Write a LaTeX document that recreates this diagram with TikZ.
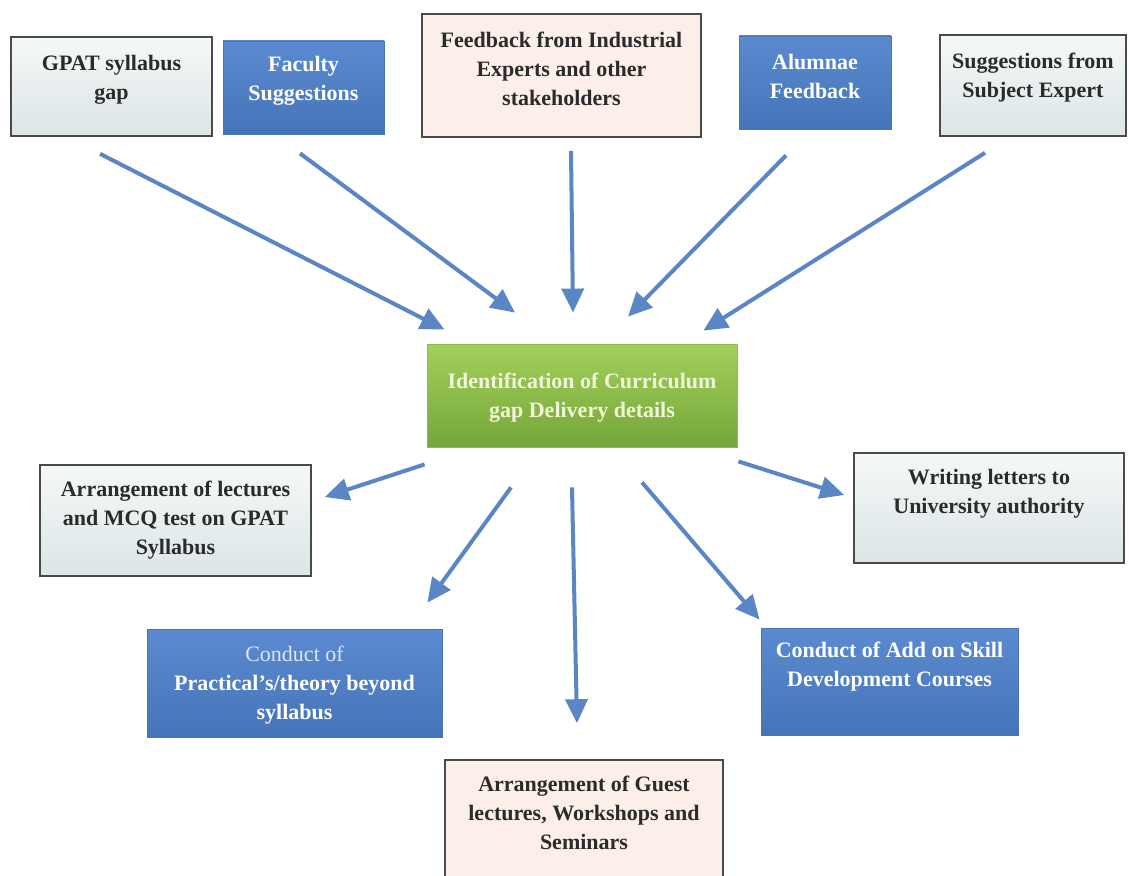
\documentclass[tikz,border=0pt]{standalone}
\usepackage{fontspec}
\setmainfont{Liberation Serif}
\usetikzlibrary{arrows.meta,calc}
\definecolor{arrowblue}{HTML}{5B86C5}
\definecolor{boxedge}{HTML}{4A4A4A}
\definecolor{grayTop}{HTML}{F5F8F8}
\definecolor{grayBot}{HTML}{DCE5E6}
\definecolor{pinkfill}{HTML}{FCEFE9}
\definecolor{blueTop}{HTML}{5B8AD0}
\definecolor{blueBot}{HTML}{4674B8}
\definecolor{blueedge}{HTML}{4A76B8}
\definecolor{greenTop}{HTML}{A3D05A}
\definecolor{greenBot}{HTML}{74A63A}
\definecolor{greenedge}{HTML}{8CBF48}
\definecolor{darktext}{HTML}{2B2B2B}
\definecolor{greentext}{HTML}{F1F6D8}
\definecolor{paletext}{HTML}{DDE6F5}
\begin{document}
\begin{tikzpicture}[x=1pt,y=-1pt,
  box/.style={rectangle, inner sep=0pt, line width=1.6pt},
  graybox/.style={box, draw=boxedge, top color=grayTop, bottom color=grayBot},
  pinkbox/.style={box, draw=boxedge, fill=pinkfill},
  bluebox/.style={box, draw=blueedge, line width=0.8pt, top color=blueTop, bottom color=blueBot},
  greenbox/.style={box, draw=greenedge, line width=0.8pt, top color=greenTop, bottom color=greenBot},
  dtxt/.style={align=center, font=\bfseries\fontsize{22}{29}\selectfont, text=darktext, inner sep=0pt},
  wtxt/.style={dtxt, text=white},
  gtxt/.style={dtxt, text=greentext},
  arr/.style={draw=arrowblue, line width=4pt, -{Triangle[length=24pt,width=22pt]}}
]
\useasboundingbox (0,0) rectangle (1129,875);
\clip (0,0) rectangle (1129,875);
\fill[white] (0,0) rectangle (1129,875);

% top row
\node[graybox, minimum width=201pt, minimum height=99pt] (gpat) at (111.5,86.5) {};
\node[dtxt] (gpatT) at ($(gpat.center)+(0,-7)$) {GPAT syllabus\\gap};

\node[bluebox, minimum width=161pt, minimum height=93pt] (faculty) at (303.5,87.5) {};
\node[wtxt] (facultyT) at ($(faculty.center)+(0,-7)$) {Faculty\\Suggestions};

\node[pinkbox, minimum width=279pt, minimum height=123pt] (feedback) at (561.5,75.5) {};
\node[dtxt] (feedbackT) at ($(feedback.center)+(0,-7)$) {Feedback from Industrial\\Experts and other\\stakeholders};

\node[bluebox, minimum width=152pt, minimum height=93pt] (alumnae) at (815,82.5) {};
\node[wtxt] (alumnaeT) at ($(alumnae.center)+(0,-6)$) {Alumnae\\Feedback};

\node[graybox, minimum width=186pt, minimum height=101pt] (subject) at (1033,85.5) {};
\node[dtxt] (subjectT) at ($(subject.center)+(0,-8)$) {Suggestions from\\Subject Expert};

% centre
\node[greenbox, minimum width=310pt, minimum height=103pt] (center) at (582,395.5) {};
\node[gtxt] (centerT) at ($(center.center)+(0,2)$) {Identification of Curriculum\\gap Delivery details};

% bottom
\node[graybox, minimum width=271pt, minimum height=111pt] (lectures) at (175.5,520.5) {};
\node[dtxt] (lecturesT) at (lectures.center) {Arrangement of lectures\\and MCQ test on GPAT\\Syllabus};

\node[graybox, minimum width=270pt, minimum height=110pt] (writing) at (989,508) {};
\node[dtxt] (writingT) at ($(writing.center)+(0,-14)$) {Writing letters to\\University authority};

\node[bluebox, minimum width=295pt, minimum height=108pt] (practical) at (294.5,683) {};
\node[wtxt] (practicalT) at ($(practical.center)+(0,2)$) {{\mdseries\color{paletext}Conduct of}\\Practical's/theory beyond\\syllabus};

\node[bluebox, minimum width=257pt, minimum height=107pt] (addon) at (889.5,681.5) {};
\node[wtxt] (addonT) at ($(addon.center)+(0,-15)$) {Conduct of Add on Skill\\Development Courses};

\node[pinkbox, minimum width=278pt, minimum height=140pt] (guest) at (584,830) {};
\node[dtxt] (guestT) at (584,813) {Arrangement of Guest\\lectures, Workshops and\\Seminars};

% arrows into the centre
\draw[arr] ($(gpat.south)+(-11.5,17)$) -- ($(center.north west)+(18,-14)$);
\draw[arr] ($(faculty.south)+(-3.5,19)$) -- ($(center.north)+(-67,-31)$);
\draw[arr] ($(feedback.south)+(9.5,13)$) -- ($(center.north)+(-9,-31)$);
\draw[arr] ($(alumnae.south)+(-29,26)$) -- ($(center.north)+(46,-27)$);
\draw[arr] ($(subject.south)+(-48,16)$) -- ($(center.north east)+(-34,-13)$);

% arrows out of the centre
\draw[arr] ($(center.south west)+(-2,17)$) -- ($(lectures.east)+(13,-23.5)$);
\draw[arr] ($(center.south)+(-71,40)$) -- ($(practical.north east)+(-15,-26)$);
\draw[arr] ($(center.south)+(-10,40)$) -- ($(guest.north)+(-7,-36)$);
\draw[arr] ($(center.south)+(60,35)$) -- ($(addon.north west)+(-1,-8)$);
\draw[arr] ($(center.south east)+(1,14)$) -- ($(writing.west)+(-9,-13)$);
\end{tikzpicture}
\end{document}
